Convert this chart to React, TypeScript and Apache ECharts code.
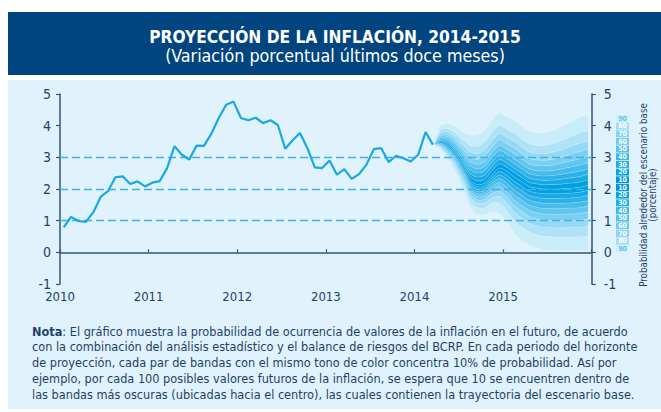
import React, { useEffect, useRef } from "react";
import * as echarts from "echarts";

// ---------- DATA ----------
const histStartYear = 2010;
// monthly 12-month inflation, Jan 2010 .. Mar 2014
const histValues = [
  0.79, 1.12, 0.99, 0.96, 1.26, 1.75, 1.93, 2.37, 2.4, 2.16, 2.24, 2.08,
  2.2, 2.25, 2.66, 3.35, 3.08, 2.93, 3.37, 3.36, 3.75, 4.24, 4.66, 4.76,
  4.24, 4.17, 4.25, 4.08, 4.17, 4.02, 3.27, 3.54, 3.77, 3.29, 2.68, 2.66,
  2.9, 2.45, 2.63, 2.32, 2.47, 2.77, 3.26, 3.29, 2.85, 3.05, 2.97, 2.87,
  3.08, 3.8, 3.4,
];
// fan chart, Mar 2014 .. Dec 2015
const fanStartYear = 2014;
const fanStartMonth = 3;
const fanCenter = [
  3.4, 3.45, 3.35, 3.08, 2.72, 2.29, 2.14, 2.19, 2.45, 2.66,
  2.56, 2.38, 2.24, 2.08, 2.03, 2.0, 2.0, 2.0, 2.02, 2.03, 2.06, 2.12,
];
const fanUpper90 = [
  3.4, 3.98, 4.06, 3.98, 3.8, 3.7, 3.7, 3.85, 4.17, 4.4,
  4.27, 4.17, 3.98, 3.82, 3.77, 3.77, 3.82, 3.93, 4.03, 4.17, 4.27, 4.35,
];
const fanLower90 = [
  3.4, 3.24, 2.93, 2.56, 2.03, 1.45, 1.21, 1.19, 1.29, 1.24,
  0.98, 0.62, 0.4, 0.24, 0.14, 0.08, 0.06, 0.05, 0.05, 0.05, 0.05, 0.05,
];
// relative position of each probability band edge (10%..90%) between centre and outer edge
const bandFractions = [0.077, 0.154, 0.234, 0.319, 0.41, 0.512, 0.63, 0.779, 1.0];
const bandLabels = ["10", "20", "30", "40", "50", "60", "70", "80", "90"];
const bandColors = [
  "#01A0E3", "#16A9E6", "#2CB2E9", "#46BCEC", "#60C5EF",
  "#7BCFF2", "#96D9F4", "#B0E2F7", "#C9ECF9",
];
const legendColors = [
  "#0096DA", "#05A4E4", "#1DAEE7", "#3BB8EA", "#55C1ED",
  "#6FCAF0", "#8AD3F2", "#A3DCF4", "#D3EEFA",
];
const xYears = [2010, 2011, 2012, 2013, 2014, 2015, 2016];
const yTicks = [-1, 0, 1, 2, 3, 4, 5];
const refLevels = [1, 2, 3];

const titleText = "PROYECCIÓN DE LA INFLACIÓN, 2014-2015";
const subtitleText = "(Variación porcentual últimos doce meses)";
const sideText1 = "Probabilidad alrededor del escenario base";
const sideText2 = "(porcentaje)";
const noteLines = [
  "El gráfico muestra la probabilidad de ocurrencia de valores de la inflación en el futuro, de acuerdo",
  "con la combinación del análisis estadístico y el balance de riesgos del BCRP. En cada periodo del horizonte",
  "de proyección, cada par de bandas con el mismo tono de color concentra 10% de probabilidad. Así por",
  "ejemplo, por cada 100 posibles valores futuros de la inflación, se espera que 10 se encuentren dentro de",
  "las bandas más oscuras (ubicadas hacia el centro), las cuales contienen la trayectoria del escenario base.",
];

// ---------- STYLE ----------
const FONT = '"DejaVu Sans Condensed", Lato, sans-serif';
const NAVY = "#1F3F6D";
const AXIS = "#33547E";
const BG = "#E0F2FB";

function monthX(year: number, month: number) {
  return year + (month - 0.5) / 12;
}

let measureCtx: CanvasRenderingContext2D | null = null;
function textWidth(text: string, font: string) {
  if (!measureCtx) measureCtx = document.createElement("canvas").getContext("2d");
  if (!measureCtx) return text.length * 7;
  measureCtx.font = font;
  return measureCtx.measureText(text).width;
}
function fitSize(texts: string[], weight: string, base: number, target: number) {
  const w = Math.max(...texts.map((t) => textWidth(t, `${weight} ${base}px ${FONT}`)));
  return w > 0 ? (base * target) / w : base;
}

function smoothSeg(pts: number[][], t: number, moveFirst: boolean) {
  let d = moveFirst ? `M${pts[0][0]},${pts[0][1]}` : `L${pts[0][0]},${pts[0][1]}`;
  const n = pts.length;
  for (let i = 0; i < n - 1; i++) {
    const p0 = pts[Math.max(i - 1, 0)];
    const p1 = pts[i];
    const p2 = pts[i + 1];
    const p3 = pts[Math.min(i + 2, n - 1)];
    const c1x = p1[0] + ((p2[0] - p0[0]) / 6) * t;
    const c1y = p1[1] + ((p2[1] - p0[1]) / 6) * t;
    const c2x = p2[0] - ((p3[0] - p1[0]) / 6) * t;
    const c2y = p2[1] - ((p3[1] - p1[1]) / 6) * t;
    d += `C${c1x},${c1y},${c2x},${c2y},${p2[0]},${p2[1]}`;
  }
  return d;
}

export default function App() {
  const ref = useRef<HTMLDivElement>(null);

  useEffect(() => {
    document.body.style.margin = "0";
    if (!ref.current) return;
    const chart = echarts.init(ref.current, undefined, { renderer: "svg" });

    const histData = histValues.map((v, i) => [
      monthX(histStartYear + Math.floor(i / 12), (i % 12) + 1),
      v,
    ]);
    const fanX = fanCenter.map((_, i) => {
      const m = fanStartMonth - 1 + i;
      return monthX(fanStartYear + Math.floor(m / 12), (m % 12) + 1);
    });

    // band edges from bottom (lower 90) to top (upper 90)
    const edges: number[][] = [];
    for (let k = 8; k >= 0; k--)
      edges.push(fanCenter.map((c, i) => c - (c - fanLower90[i]) * bandFractions[k]));
    edges.push(fanCenter.slice());
    for (let k = 0; k <= 8; k++)
      edges.push(fanCenter.map((c, i) => c + (fanUpper90[i] - c) * bandFractions[k]));

    const bandItems: number[][] = [];
    for (let j = 1; j < edges.length; j++) bandItems.push([fanX[0], fanCenter[0], j]);

    const fanSeries = {
      type: "custom",
      coordinateSystem: "cartesian2d",
      silent: true,
      z: 2,
      encode: { x: 0, y: 1 },
      data: bandItems,
      renderItem: (params: any, api: any) => {
        const j = api.value(2);
        const ci = j <= 9 ? 9 - j : j - 10;
        const upper = fanX.map((x, i) => api.coord([x, edges[j][i]]));
        const lower = fanX.map((x, i) => api.coord([x, edges[j - 1][i]])).reverse();
        const d = smoothSeg(upper, 0.9, true) + smoothSeg(lower, 0.9, false) + "Z";
        return {
          type: "path",
          shape: { pathData: d },
          style: {
            fill: bandColors[ci],
            stroke: "rgba(255,255,255,0.28)",
            lineWidth: 0.5,
          },
        };
      },
    };

    // legend boxes
    const legendOrder = [...bandLabels.slice().reverse(), ...bandLabels];
    const legendColorIdx = [8, 7, 6, 5, 4, 3, 2, 1, 0, 0, 1, 2, 3, 4, 5, 6, 7, 8];
    const boxH = 7.67;
    const legendEls: any[] = [];
    legendOrder.forEach((lab, i) => {
      const y = 115 + i * boxH;
      legendEls.push({
        type: "rect",
        shape: { x: 616, y: y, width: 13, height: boxH - 0.8 },
        style: { fill: legendColors[legendColorIdx[i]] },
      });
      legendEls.push({
        type: "text",
        x: 622.5,
        y: y + boxH / 2 - 0.3,
        style: {
          text: lab,
          fill: lab === "90" ? "#5EC3EE" : "#FFFFFF",
          font: `bold 7px ${FONT}`,
          align: "center",
          verticalAlign: "middle",
        },
      });
    });

    const noteSize = fitSize(
      noteLines.map((l, i) => (i === 0 ? "Nota: " + l : l)),
      "normal",
      14,
      606
    );
    const noteEls: any[] = noteLines.map((line, i) => ({
      type: "text",
      x: 32,
      y: 331 + i * 15.8,
      style: {
        text: i === 0 ? "{b|Nota}: " + line : line,
        fill: NAVY,
        font: `${noteSize}px ${FONT}`,
        verticalAlign: "middle",
        align: "left",
        rich: { b: { font: `bold ${noteSize}px ${FONT}`, fill: NAVY } },
      },
    }));

    const titleSize = fitSize([titleText], "bold", 18, 372);
    const subSize = fitSize([subtitleText], "normal", 16, 340);
    const sideSize = fitSize([sideText1], "normal", 11, 184);

    chart.setOption({
      animation: false,
      textStyle: { fontFamily: FONT },
      grid: { left: 60, top: 94, width: 531.7, height: 190, containLabel: false },
      xAxis: [
        {
          type: "value",
          min: xYears[0],
          max: xYears[xYears.length - 1],
          interval: 1,
          position: "bottom",
          axisLine: { show: false },
          axisTick: { show: false },
          splitLine: { show: false },
          axisLabel: {
            color: NAVY,
            fontSize: 13,
            fontFamily: FONT,
            margin: 6,
            formatter: (v: number) => (v === xYears[xYears.length - 1] ? "" : String(v)),
          },
        },
        {
          type: "value",
          min: xYears[0],
          max: xYears[xYears.length - 1],
          interval: 1,
          position: "top",
          axisLine: { show: true, onZero: true, lineStyle: { color: AXIS, width: 1.5 } },
          axisTick: { show: true, length: 3, lineStyle: { color: AXIS, width: 1.2 } },
          axisLabel: { show: false },
          splitLine: { show: false },
        },
      ],
      yAxis: [
        {
          type: "value",
          min: yTicks[0],
          max: yTicks[yTicks.length - 1],
          interval: 1,
          position: "left",
          axisLine: { show: true, onZero: false, lineStyle: { color: AXIS, width: 1.5 } },
          axisTick: { show: true, length: 4, lineStyle: { color: AXIS, width: 1.2 } },
          axisLabel: { color: NAVY, fontSize: 14, fontFamily: FONT, margin: 9 },
          splitLine: { show: false },
        },
        {
          type: "value",
          min: yTicks[0],
          max: yTicks[yTicks.length - 1],
          interval: 1,
          position: "right",
          axisLine: { show: true, onZero: false, lineStyle: { color: AXIS, width: 1.5 } },
          axisTick: { show: true, length: 4, lineStyle: { color: AXIS, width: 1.2 } },
          axisLabel: { color: NAVY, fontSize: 14, fontFamily: FONT, margin: 12 },
          splitLine: { show: false },
        },
      ],
      series: [
        fanSeries,
        {
          type: "line",
          data: histData,
          symbol: "none",
          lineStyle: { color: "#19A8E4", width: 2.2 },
          z: 10,
          silent: true,
          markLine: {
            silent: true,
            symbol: ["none", "none"],
            label: { show: false },
            lineStyle: { type: [8, 4], color: "#3AB3E7", width: 1.3 },
            data: refLevels.map((v) => ({ yAxis: v })),
          },
        },
      ],
      graphic: [
        {
          type: "rect",
          z: -10,
          shape: { x: 8, y: 12, width: 653, height: 63 },
          style: { fill: "#00457F" },
        },
        {
          type: "rect",
          z: -10,
          shape: { x: 8, y: 80, width: 653, height: 329 },
          style: { fill: BG },
        },
        {
          type: "text",
          x: 335,
          y: 37,
          style: {
            text: titleText,
            fill: "#FFFFFF",
            font: `bold ${titleSize}px ${FONT}`,
            align: "center",
            verticalAlign: "middle",
          },
        },
        {
          type: "text",
          x: 335,
          y: 55.5,
          style: {
            text: subtitleText,
            fill: "#FFFFFF",
            font: `${subSize}px ${FONT}`,
            align: "center",
            verticalAlign: "middle",
          },
        },
        {
          type: "text",
          x: 643,
          y: 195,
          rotation: Math.PI / 2,
          style: {
            text: sideText1,
            fill: NAVY,
            font: `${sideSize}px ${FONT}`,
            align: "center",
            verticalAlign: "middle",
          },
        },
        {
          type: "text",
          x: 652.5,
          y: 195,
          rotation: Math.PI / 2,
          style: {
            text: sideText2,
            fill: NAVY,
            font: `${sideSize}px ${FONT}`,
            align: "center",
            verticalAlign: "middle",
          },
        },
        ...legendEls,
        ...noteEls,
      ],
    });

    return () => chart.dispose();
  }, []);

  return <div ref={ref} style={{ width: 661, height: 412 }} />;
}
